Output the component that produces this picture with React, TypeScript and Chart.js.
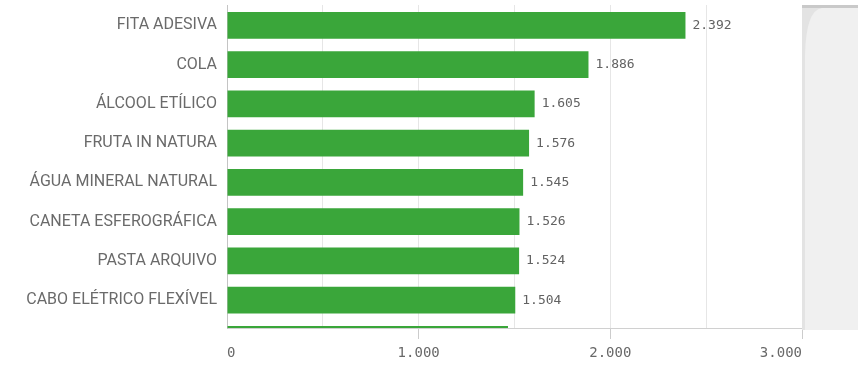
import React, { useEffect, useRef } from "react";
import { Chart, registerables } from "chart.js";

Chart.register(...registerables);

const categories = [
  "FITA ADESIVA",
  "COLA",
  "ÁLCOOL ETÍLICO",
  "FRUTA IN NATURA",
  "ÁGUA MINERAL NATURAL",
  "CANETA ESFEROGRÁFICA",
  "PASTA ARQUIVO",
  "CABO ELÉTRICO FLEXÍVEL",
  "",
];
const values = [2392, 1886, 1605, 1576, 1545, 1526, 1524, 1504, 1466];
const xTickValues = [0, 1000, 2000, 3000];

const fmt = (v: number) => String(Math.round(v)).replace(/\B(?=(\d{3})+(?!\d))/g, ".");

const extrasPlugin = {
  id: "extras",
  afterDatasetsDraw(chart: any) {
    const { ctx, chartArea } = chart;
    const meta = chart.getDatasetMeta(0);
    ctx.save();
    ctx.font = "13px 'DejaVu Sans Mono'";
    ctx.fillStyle = "#626262";
    ctx.textBaseline = "middle";
    ctx.textAlign = "left";
    meta.data.forEach((bar: any, i: number) => {
      if (bar.y > chartArea.bottom) return;
      ctx.fillText(fmt(values[i]), bar.x + 7, bar.y);
    });
    ctx.restore();
  },
  afterDraw(chart: any) {
    const { ctx, chartArea } = chart;
    const xs = chart.scales.x;
    ctx.save();
    // x tick labels
    ctx.font = "14px 'DejaVu Sans Mono'";
    ctx.fillStyle = "#686868";
    ctx.textBaseline = "middle";
    xTickValues.forEach((v, i) => {
      const px = xs.getPixelForValue(v);
      ctx.textAlign = i === 0 ? "left" : i === xTickValues.length - 1 ? "right" : "center";
      ctx.fillText(fmt(v), px, chartArea.bottom + 25);
    });
    // right side panel
    const x0 = Math.round(chartArea.right);
    const y0 = Math.round(chartArea.top);
    const y1 = Math.round(chartArea.bottom) + 2;
    const w = 56;
    ctx.fillStyle = "#f0f0f0";
    ctx.fillRect(x0, y0, w, y1 - y0);
    ctx.fillStyle = "#e3e3e3";
    ctx.beginPath();
    ctx.moveTo(x0, y0 + 3);
    ctx.lineTo(x0 + 20, y0 + 3);
    ctx.quadraticCurveTo(x0 + 4, y0 + 5, x0 + 3, y0 + 50);
    ctx.lineTo(x0 + 3, y1);
    ctx.lineTo(x0, y1);
    ctx.closePath();
    ctx.fill();
    ctx.fillStyle = "#c9c9c9";
    ctx.fillRect(x0, y0, w, 3);
    ctx.restore();
  },
};

export default function App() {
  const ref = useRef<HTMLCanvasElement | null>(null);

  useEffect(() => {
    document.body.style.margin = "0";
    if (!ref.current) return;
    const chart = new Chart(ref.current, {
      type: "bar",
      data: {
        datasets: [
          {
            data: values.map((v, i) => ({ x: v, y: i })),
            backgroundColor: "#3aa63a",
            borderWidth: 0,
            barPercentage: 0.685,
            categoryPercentage: 1,
            clip: 0,
          } as any,
        ],
      },
      options: {
        indexAxis: "y",
        animation: false,
        responsive: false,
        layout: { padding: { top: 5, right: 64, bottom: 35, left: 0 } },
        plugins: { legend: { display: false }, tooltip: { enabled: false } },
        scales: {
          x: {
            type: "linear",
            min: 0,
            max: 3000,
            ticks: { stepSize: 500, display: false },
            grid: {
              color: "#e6e6e6",
              tickLength: 11,
              tickColor: (c: any) =>
                c.tick && c.tick.value % 1000 === 0 && c.tick.value !== 0 ? "#cccccc" : "rgba(0,0,0,0)",
            },
            border: { color: "#d0d0d0" },
          },
          y: {
            type: "linear",
            reverse: true,
            offset: false,
            min: -0.52,
            max: 7.71,
            afterBuildTicks: (scale: any) => {
              scale.ticks = categories.slice(0, 8).map((_, i) => ({ value: i }));
            },
            afterFit: (scale: any) => {
              scale.width = 227;
              scale.paddingTop = 0;
              scale.paddingBottom = 0;
            },
            ticks: {
              padding: 10,
              color: "#6a6a6a",
              font: { family: "Roboto", size: 16 },
              callback: (v: any) => categories[v as number] ?? "",
            },
            grid: { display: false, drawTicks: false },
            border: { color: "#c4c4c4" },
          },
        },
      },
      plugins: [extrasPlugin],
    });
    return () => chart.destroy();
  }, []);

  return (
    <div style={{ width: 866, height: 374 }}>
      <canvas ref={ref} width={866} height={374} style={{ display: "block" }} />
    </div>
  );
}
